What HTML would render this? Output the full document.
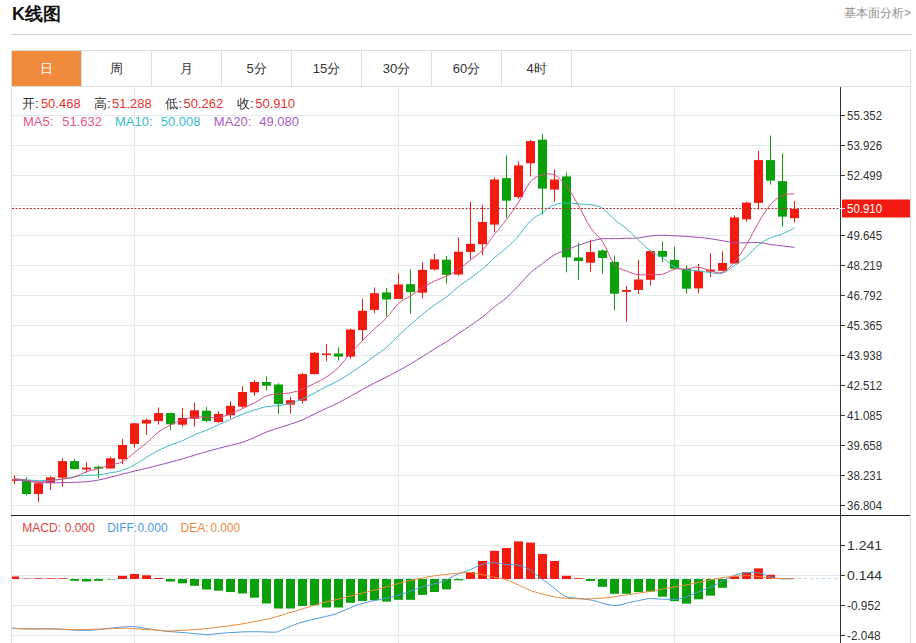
<!DOCTYPE html>
<html><head><meta charset="utf-8">
<style>
html,body{margin:0;padding:0;background:#fff;}
body{width:916px;height:643px;overflow:hidden;position:relative;font-family:"Liberation Sans",sans-serif;}
.t{position:absolute;white-space:nowrap;}
#title{left:12px;top:3px;font-size:18px;font-weight:bold;color:#111;line-height:22px;}
#more{left:844px;top:6px;font-size:12px;color:#909090;line-height:14px;}
#hr{position:absolute;left:11px;top:34px;width:901px;height:1px;background:#d0d0d0;}
#tabs{position:absolute;left:11px;top:50px;width:898px;height:35px;border:1px solid #dedede;border-bottom:1px solid #dedede;}
.tab{position:absolute;top:0;height:35px;width:70px;line-height:35px;text-align:center;font-size:13px;color:#333;border-right:1px solid #dedede;box-sizing:border-box;}
.tab.on{background:#f08a3c;color:#fff;background-clip:padding-box;}
#chart{position:absolute;left:0;top:0;}
#frame{position:absolute;left:11px;top:86px;width:898px;height:600px;border-left:1px solid #dedede;border-right:1px solid #dedede;}
.ax{font-family:"Liberation Sans",sans-serif;font-size:12.5px;fill:#333;}
.lg{position:absolute;font-size:13px;line-height:15px;white-space:nowrap;}
.v1{color:#e8312f;}
.m{font-size:12px;}
</style></head><body>
<div class="t" id="title">K线图</div>
<div class="t" id="more">基本面分析&gt;</div>
<div id="hr"></div>
<div id="frame"></div>
<div id="tabs">
<div class="tab on" style="left:0">日</div>
<div class="tab" style="left:70px">周</div>
<div class="tab" style="left:140px">月</div>
<div class="tab" style="left:210px">5分</div>
<div class="tab" style="left:280px">15分</div>
<div class="tab" style="left:350px">30分</div>
<div class="tab" style="left:420px">60分</div>
<div class="tab" style="left:490px">4时</div>
</div>
<svg id="chart" width="916" height="643" viewBox="0 0 916 643">
<defs>
<clipPath id="clipK"><rect x="12" y="87" width="828" height="428"/></clipPath>
<clipPath id="clipM"><rect x="12" y="516" width="828" height="127"/></clipPath>
</defs>
<line x1="12" y1="115.5" x2="840" y2="115.5" stroke="#e8e9eb" stroke-width="1"/>
<line x1="12" y1="145.5" x2="840" y2="145.5" stroke="#e8e9eb" stroke-width="1"/>
<line x1="12" y1="175.5" x2="840" y2="175.5" stroke="#e8e9eb" stroke-width="1"/>
<line x1="12" y1="205.5" x2="840" y2="205.5" stroke="#e8e9eb" stroke-width="1"/>
<line x1="12" y1="235.5" x2="840" y2="235.5" stroke="#e8e9eb" stroke-width="1"/>
<line x1="12" y1="265.5" x2="840" y2="265.5" stroke="#e8e9eb" stroke-width="1"/>
<line x1="12" y1="295.5" x2="840" y2="295.5" stroke="#e8e9eb" stroke-width="1"/>
<line x1="12" y1="325.5" x2="840" y2="325.5" stroke="#e8e9eb" stroke-width="1"/>
<line x1="12" y1="355.5" x2="840" y2="355.5" stroke="#e8e9eb" stroke-width="1"/>
<line x1="12" y1="385.5" x2="840" y2="385.5" stroke="#e8e9eb" stroke-width="1"/>
<line x1="12" y1="415.5" x2="840" y2="415.5" stroke="#e8e9eb" stroke-width="1"/>
<line x1="12" y1="445.5" x2="840" y2="445.5" stroke="#e8e9eb" stroke-width="1"/>
<line x1="12" y1="475.5" x2="840" y2="475.5" stroke="#e8e9eb" stroke-width="1"/>
<line x1="12" y1="505.5" x2="840" y2="505.5" stroke="#e8e9eb" stroke-width="1"/>
<line x1="134.5" y1="87" x2="134.5" y2="515" stroke="#e8e9eb" stroke-width="1"/>
<line x1="134.5" y1="516" x2="134.5" y2="643" stroke="#e8e9eb" stroke-width="1"/>
<line x1="398.5" y1="87" x2="398.5" y2="515" stroke="#e8e9eb" stroke-width="1"/>
<line x1="398.5" y1="516" x2="398.5" y2="643" stroke="#e8e9eb" stroke-width="1"/>
<line x1="674.5" y1="87" x2="674.5" y2="515" stroke="#e8e9eb" stroke-width="1"/>
<line x1="674.5" y1="516" x2="674.5" y2="643" stroke="#e8e9eb" stroke-width="1"/>
<line x1="12" y1="545.5" x2="840" y2="545.5" stroke="#e8e9eb" stroke-width="1"/>
<line x1="12" y1="575.5" x2="840" y2="575.5" stroke="#e8e9eb" stroke-width="1"/>
<line x1="12" y1="605.5" x2="840" y2="605.5" stroke="#e8e9eb" stroke-width="1"/>
<line x1="12" y1="635.5" x2="840" y2="635.5" stroke="#e8e9eb" stroke-width="1"/>
<line x1="12" y1="578.5" x2="840" y2="578.5" stroke="#bcd8ee" stroke-width="1" stroke-dasharray="3,3"/>
<g clip-path="url(#clipK)"><line x1="14.5" y1="475" x2="14.5" y2="484" stroke="#f31a10" stroke-width="1"/><rect x="10.0" y="479.2" width="9" height="1.6" fill="#f31a10"/><line x1="26.5" y1="477.2" x2="26.5" y2="495.5" stroke="#0aa00a" stroke-width="1"/><rect x="22.0" y="480.5" width="9" height="13.5" fill="#0aa00a"/><line x1="38.5" y1="481.4" x2="38.5" y2="502.1" stroke="#f31a10" stroke-width="1"/><rect x="34.0" y="483.3" width="9" height="10.7" fill="#f31a10"/><line x1="50.5" y1="476.2" x2="50.5" y2="490" stroke="#f31a10" stroke-width="1"/><rect x="46.0" y="477.4" width="9" height="5.3" fill="#f31a10"/><line x1="62.5" y1="458.2" x2="62.5" y2="486.7" stroke="#f31a10" stroke-width="1"/><rect x="58.0" y="461.1" width="9" height="16.6" fill="#f31a10"/><line x1="74.5" y1="459.1" x2="74.5" y2="469.1" stroke="#0aa00a" stroke-width="1"/><rect x="70.0" y="461.1" width="9" height="8" fill="#0aa00a"/><line x1="86.5" y1="462.3" x2="86.5" y2="472.9" stroke="#f31a10" stroke-width="1"/><rect x="82.0" y="467.6" width="9" height="1.9" fill="#f31a10"/><line x1="98.5" y1="465.7" x2="98.5" y2="478.3" stroke="#0aa00a" stroke-width="1"/><rect x="94.0" y="466.7" width="9" height="1.9" fill="#0aa00a"/><line x1="110.5" y1="456.7" x2="110.5" y2="468.6" stroke="#f31a10" stroke-width="1"/><rect x="106.0" y="458.3" width="9" height="10.2" fill="#f31a10"/><line x1="122.5" y1="439" x2="122.5" y2="464.4" stroke="#f31a10" stroke-width="1"/><rect x="118.0" y="445" width="9" height="14.2" fill="#f31a10"/><line x1="134.5" y1="423.3" x2="134.5" y2="447.4" stroke="#f31a10" stroke-width="1"/><rect x="130.0" y="423.3" width="9" height="20.6" fill="#f31a10"/><line x1="146.5" y1="418.7" x2="146.5" y2="435" stroke="#f31a10" stroke-width="1"/><rect x="142.0" y="419.8" width="9" height="3.8" fill="#f31a10"/><line x1="158.5" y1="407.5" x2="158.5" y2="424.7" stroke="#f31a10" stroke-width="1"/><rect x="154.0" y="413.1" width="9" height="8" fill="#f31a10"/><line x1="170.5" y1="412.4" x2="170.5" y2="429.9" stroke="#0aa00a" stroke-width="1"/><rect x="166.0" y="413.1" width="9" height="11.2" fill="#0aa00a"/><line x1="182.5" y1="407.9" x2="182.5" y2="426.7" stroke="#f31a10" stroke-width="1"/><rect x="178.0" y="418" width="9" height="6.7" fill="#f31a10"/><line x1="194.5" y1="402.9" x2="194.5" y2="426.7" stroke="#f31a10" stroke-width="1"/><rect x="190.0" y="410.3" width="9" height="8.4" fill="#f31a10"/><line x1="206.5" y1="407.1" x2="206.5" y2="422.2" stroke="#0aa00a" stroke-width="1"/><rect x="202.0" y="410.7" width="9" height="10.2" fill="#0aa00a"/><line x1="218.5" y1="411.2" x2="218.5" y2="422.8" stroke="#f31a10" stroke-width="1"/><rect x="214.0" y="414" width="9" height="8.1" fill="#f31a10"/><line x1="230.5" y1="401.2" x2="230.5" y2="418.8" stroke="#f31a10" stroke-width="1"/><rect x="226.0" y="405.8" width="9" height="9.4" fill="#f31a10"/><line x1="242.5" y1="386.4" x2="242.5" y2="408" stroke="#f31a10" stroke-width="1"/><rect x="238.0" y="392" width="9" height="14.7" fill="#f31a10"/><line x1="254.5" y1="380.1" x2="254.5" y2="395.8" stroke="#f31a10" stroke-width="1"/><rect x="250.0" y="382" width="9" height="10.4" fill="#f31a10"/><line x1="266.5" y1="376.1" x2="266.5" y2="390.4" stroke="#0aa00a" stroke-width="1"/><rect x="262.0" y="382" width="9" height="3.7" fill="#0aa00a"/><line x1="278.5" y1="383.2" x2="278.5" y2="414.2" stroke="#0aa00a" stroke-width="1"/><rect x="274.0" y="384.5" width="9" height="19.5" fill="#0aa00a"/><line x1="290.5" y1="396.7" x2="290.5" y2="413.4" stroke="#f31a10" stroke-width="1"/><rect x="286.0" y="400.2" width="9" height="4.4" fill="#f31a10"/><line x1="302.5" y1="373.2" x2="302.5" y2="403.3" stroke="#f31a10" stroke-width="1"/><rect x="298.0" y="374.1" width="9" height="26.7" fill="#f31a10"/><line x1="314.5" y1="351.9" x2="314.5" y2="374.5" stroke="#f31a10" stroke-width="1"/><rect x="310.0" y="352.8" width="9" height="21.3" fill="#f31a10"/><line x1="326.5" y1="344.1" x2="326.5" y2="361.2" stroke="#f31a10" stroke-width="1"/><rect x="322.0" y="353.5" width="9" height="1.5" fill="#f31a10"/><line x1="338.5" y1="347.2" x2="338.5" y2="360.6" stroke="#0aa00a" stroke-width="1"/><rect x="334.0" y="353.5" width="9" height="3.1" fill="#0aa00a"/><line x1="350.5" y1="328.6" x2="350.5" y2="358.6" stroke="#f31a10" stroke-width="1"/><rect x="346.0" y="329.5" width="9" height="27.1" fill="#f31a10"/><line x1="362.5" y1="299" x2="362.5" y2="341" stroke="#f31a10" stroke-width="1"/><rect x="358.0" y="310.8" width="9" height="19.3" fill="#f31a10"/><line x1="374.5" y1="287.5" x2="374.5" y2="313" stroke="#f31a10" stroke-width="1"/><rect x="370.0" y="293.2" width="9" height="16.7" fill="#f31a10"/><line x1="386.5" y1="288.1" x2="386.5" y2="316.6" stroke="#0aa00a" stroke-width="1"/><rect x="382.0" y="292.4" width="9" height="7.1" fill="#0aa00a"/><line x1="398.5" y1="273.4" x2="398.5" y2="299" stroke="#f31a10" stroke-width="1"/><rect x="394.0" y="284.5" width="9" height="14.5" fill="#f31a10"/><line x1="410.5" y1="269" x2="410.5" y2="313.6" stroke="#0aa00a" stroke-width="1"/><rect x="406.0" y="284.2" width="9" height="8" fill="#0aa00a"/><line x1="422.5" y1="262.2" x2="422.5" y2="298.6" stroke="#f31a10" stroke-width="1"/><rect x="418.0" y="269.9" width="9" height="22.8" fill="#f31a10"/><line x1="434.5" y1="253.8" x2="434.5" y2="270.6" stroke="#f31a10" stroke-width="1"/><rect x="430.0" y="259.4" width="9" height="10.1" fill="#f31a10"/><line x1="446.5" y1="255.9" x2="446.5" y2="283.4" stroke="#0aa00a" stroke-width="1"/><rect x="442.0" y="259.7" width="9" height="15.1" fill="#0aa00a"/><line x1="458.5" y1="237.3" x2="458.5" y2="275.5" stroke="#f31a10" stroke-width="1"/><rect x="454.0" y="251.7" width="9" height="22.8" fill="#f31a10"/><line x1="470.5" y1="201.7" x2="470.5" y2="259.4" stroke="#f31a10" stroke-width="1"/><rect x="466.0" y="243.8" width="9" height="8.1" fill="#f31a10"/><line x1="482.5" y1="204.8" x2="482.5" y2="255.3" stroke="#f31a10" stroke-width="1"/><rect x="478.0" y="222" width="9" height="22.2" fill="#f31a10"/><line x1="494.5" y1="177.5" x2="494.5" y2="232.1" stroke="#f31a10" stroke-width="1"/><rect x="490.0" y="179.5" width="9" height="45.1" fill="#f31a10"/><line x1="506.5" y1="155.3" x2="506.5" y2="217.9" stroke="#0aa00a" stroke-width="1"/><rect x="502.0" y="178.1" width="9" height="22.6" fill="#0aa00a"/><line x1="518.5" y1="161.3" x2="518.5" y2="198.7" stroke="#f31a10" stroke-width="1"/><rect x="514.0" y="165.4" width="9" height="31.7" fill="#f31a10"/><line x1="530.5" y1="140.1" x2="530.5" y2="176.5" stroke="#f31a10" stroke-width="1"/><rect x="526.0" y="141.1" width="9" height="22.2" fill="#f31a10"/><line x1="542.5" y1="134" x2="542.5" y2="214.5" stroke="#0aa00a" stroke-width="1"/><rect x="538.0" y="139.7" width="9" height="48.9" fill="#0aa00a"/><line x1="554.5" y1="169.4" x2="554.5" y2="201.7" stroke="#f31a10" stroke-width="1"/><rect x="550.0" y="179.5" width="9" height="10.1" fill="#f31a10"/><line x1="566.5" y1="172.7" x2="566.5" y2="272.3" stroke="#0aa00a" stroke-width="1"/><rect x="562.0" y="176.4" width="9" height="80.9" fill="#0aa00a"/><line x1="578.5" y1="242.7" x2="578.5" y2="279.7" stroke="#0aa00a" stroke-width="1"/><rect x="574.0" y="257.5" width="9" height="3.5" fill="#0aa00a"/><line x1="590.5" y1="239.7" x2="590.5" y2="271.7" stroke="#f31a10" stroke-width="1"/><rect x="586.0" y="252.1" width="9" height="10.6" fill="#f31a10"/><line x1="602.5" y1="249.4" x2="602.5" y2="273.6" stroke="#0aa00a" stroke-width="1"/><rect x="598.0" y="250.5" width="9" height="7.5" fill="#0aa00a"/><line x1="614.5" y1="255.7" x2="614.5" y2="310.4" stroke="#0aa00a" stroke-width="1"/><rect x="610.0" y="261.9" width="9" height="31.8" fill="#0aa00a"/><line x1="626.5" y1="285.9" x2="626.5" y2="321.5" stroke="#f31a10" stroke-width="1"/><rect x="622.0" y="290" width="9" height="1.8" fill="#f31a10"/><line x1="638.5" y1="260.1" x2="638.5" y2="294" stroke="#f31a10" stroke-width="1"/><rect x="634.0" y="279.5" width="9" height="10.4" fill="#f31a10"/><line x1="650.5" y1="250" x2="650.5" y2="285.4" stroke="#f31a10" stroke-width="1"/><rect x="646.0" y="251.1" width="9" height="28.7" fill="#f31a10"/><line x1="662.5" y1="241.2" x2="662.5" y2="262.1" stroke="#0aa00a" stroke-width="1"/><rect x="658.0" y="251" width="9" height="5.8" fill="#0aa00a"/><line x1="674.5" y1="246.7" x2="674.5" y2="268.7" stroke="#0aa00a" stroke-width="1"/><rect x="670.0" y="259.9" width="9" height="8.8" fill="#0aa00a"/><line x1="686.5" y1="265.4" x2="686.5" y2="293.7" stroke="#0aa00a" stroke-width="1"/><rect x="682.0" y="269" width="9" height="19.7" fill="#0aa00a"/><line x1="698.5" y1="264.1" x2="698.5" y2="293.4" stroke="#f31a10" stroke-width="1"/><rect x="694.0" y="270.8" width="9" height="17.6" fill="#f31a10"/><line x1="710.5" y1="253.2" x2="710.5" y2="277" stroke="#f31a10" stroke-width="1"/><rect x="706.0" y="269.7" width="9" height="1.9" fill="#f31a10"/><line x1="722.5" y1="251.4" x2="722.5" y2="270.8" stroke="#f31a10" stroke-width="1"/><rect x="718.0" y="263" width="9" height="7.8" fill="#f31a10"/><line x1="734.5" y1="215.3" x2="734.5" y2="263.5" stroke="#f31a10" stroke-width="1"/><rect x="730.0" y="217.4" width="9" height="46.1" fill="#f31a10"/><line x1="746.5" y1="201.8" x2="746.5" y2="221.7" stroke="#f31a10" stroke-width="1"/><rect x="742.0" y="202.6" width="9" height="16.7" fill="#f31a10"/><line x1="758.5" y1="150.7" x2="758.5" y2="209.7" stroke="#f31a10" stroke-width="1"/><rect x="754.0" y="160.1" width="9" height="42.8" fill="#f31a10"/><line x1="770.5" y1="135.6" x2="770.5" y2="184.6" stroke="#0aa00a" stroke-width="1"/><rect x="766.0" y="160.1" width="9" height="20.5" fill="#0aa00a"/><line x1="782.5" y1="153.2" x2="782.5" y2="226.8" stroke="#0aa00a" stroke-width="1"/><rect x="778.0" y="181.1" width="9" height="35.5" fill="#0aa00a"/><line x1="794.5" y1="201" x2="794.5" y2="222.5" stroke="#f31a10" stroke-width="1"/><rect x="790.0" y="208.9" width="9" height="9.3" fill="#f31a10"/></g>
<g clip-path="url(#clipK)"><path d="M14.5,479.57 C16.66,479.85 22.18,480.63 26.5,481.15 C30.82,481.67 34.18,482.13 38.5,482.44 C42.82,482.75 46.18,482.86 50.5,482.89 C54.82,482.92 58.18,482.71 62.5,482.61 C66.82,482.5 70.18,482.49 74.5,482.32 C78.82,482.15 82.18,482.08 86.5,481.68 C90.82,481.27 94.18,480.87 98.5,480.07 C102.82,479.27 106.18,478.31 110.5,477.23 C114.82,476.16 118.18,475.19 122.5,474.09 C126.82,472.99 130.18,472.19 134.5,471.14 C138.82,470.09 142.18,469.34 146.5,468.28 C150.82,467.21 154.18,466.34 158.5,465.23 C162.82,464.12 166.18,463.28 170.5,462.13 C174.82,460.98 178.18,460.1 182.5,458.86 C186.82,457.61 190.18,456.52 194.5,455.22 C198.82,453.91 202.18,452.84 206.5,451.62 C210.82,450.39 214.18,449.54 218.5,448.41 C222.82,447.28 226.18,446.43 230.5,445.32 C234.82,444.21 238.18,443.68 242.5,442.25 C246.82,440.83 250.18,439.24 254.5,437.4 C258.82,435.55 262.18,433.67 266.5,431.98 C270.82,430.29 274.18,429.42 278.5,428.01 C282.82,426.61 286.18,425.63 290.5,424.16 C294.82,422.68 298.18,421.63 302.5,419.81 C306.82,417.98 310.18,416.06 314.5,413.99 C318.82,411.92 322.18,410.32 326.5,408.28 C330.82,406.25 334.18,404.85 338.5,402.69 C342.82,400.52 346.18,398.61 350.5,396.25 C354.82,393.88 358.18,391.91 362.5,389.53 C366.82,387.16 370.18,385.28 374.5,383.03 C378.82,380.78 382.18,379.26 386.5,377.01 C390.82,374.77 394.18,372.93 398.5,370.58 C402.82,368.24 406.18,366.5 410.5,363.98 C414.82,361.46 418.18,359.27 422.5,356.57 C426.82,353.88 430.18,351.7 434.5,349.03 C438.82,346.36 442.18,344.5 446.5,341.73 C450.82,338.95 454.18,336.53 458.5,333.61 C462.82,330.69 466.18,328.5 470.5,325.51 C474.82,322.52 478.18,320.36 482.5,317.01 C486.82,313.66 490.18,310.37 494.5,306.88 C498.82,303.4 502.18,301.45 506.5,297.63 C510.82,293.82 514.18,290.18 518.5,285.71 C522.82,281.23 526.18,276.75 530.5,272.75 C534.82,268.75 538.18,266.7 542.5,263.48 C546.82,260.25 550.18,257.24 554.5,254.81 C558.82,252.38 562.18,251.73 566.5,250 C570.82,248.27 574.18,246.78 578.5,245.22 C582.82,243.66 586.18,242.52 590.5,241.35 C594.82,240.18 598.18,239.18 602.5,238.71 C606.82,238.24 610.18,238.82 614.5,238.73 C618.82,238.65 622.18,238.39 626.5,238.26 C630.82,238.13 634.18,238.42 638.5,238.01 C642.82,237.6 646.18,236.44 650.5,235.96 C654.82,235.47 658.18,235.33 662.5,235.3 C666.82,235.27 670.18,235.56 674.5,235.77 C678.82,235.97 682.18,236.16 686.5,236.46 C690.82,236.76 694.18,237.01 698.5,237.42 C702.82,237.82 706.18,238.11 710.5,238.71 C714.82,239.31 718.18,240.05 722.5,240.76 C726.82,241.47 730.18,242.3 734.5,242.66 C738.82,243.01 742.18,242.78 746.5,242.75 C750.82,242.72 754.18,242.18 758.5,242.49 C762.82,242.79 766.18,243.85 770.5,244.46 C774.82,245.07 778.18,245.34 782.5,245.86 C786.82,246.38 792.34,247.07 794.5,247.33" fill="none" stroke="#9a4cb6" stroke-width="1"/><path d="M14.5,478.9 C16.66,479.06 22.18,479.49 26.5,479.8 C30.82,480.11 34.18,480.51 38.5,480.6 C42.82,480.69 46.18,480.57 50.5,480.3 C54.82,480.03 58.18,479.75 62.5,479.1 C66.82,478.45 70.18,477.37 74.5,476.7 C78.82,476.03 82.18,475.72 86.5,475.4 C90.82,475.08 94.18,475.37 98.5,474.9 C102.82,474.43 106.18,473.62 110.5,472.8 C114.82,471.98 118.18,471.81 122.5,470.36 C126.82,468.91 130.18,467.11 134.5,464.77 C138.82,462.43 142.18,459.95 146.5,457.35 C150.82,454.75 154.18,452.55 158.5,450.33 C162.82,448.11 166.18,446.75 170.5,445.02 C174.82,443.29 178.18,442.54 182.5,440.71 C186.82,438.88 190.18,436.73 194.5,434.83 C198.82,432.93 202.18,431.98 206.5,430.16 C210.82,428.34 214.18,426.63 218.5,424.7 C222.82,422.77 226.18,421.35 230.5,419.45 C234.82,417.55 238.18,415.85 242.5,414.15 C246.82,412.45 250.18,411.38 254.5,410.02 C258.82,408.66 262.18,407.39 266.5,406.61 C270.82,405.83 274.18,406.3 278.5,405.7 C282.82,405.1 286.18,404.51 290.5,403.29 C294.82,402.07 298.18,400.73 302.5,398.9 C306.82,397.07 310.18,395.4 314.5,393.15 C318.82,390.9 322.18,388.66 326.5,386.41 C330.82,384.16 334.18,383.08 338.5,380.67 C342.82,378.26 346.18,375.88 350.5,373.04 C354.82,370.21 358.18,367.98 362.5,364.92 C366.82,361.86 370.18,359.19 374.5,356.04 C378.82,352.89 382.18,351.12 386.5,347.42 C390.82,343.72 394.18,339.56 398.5,335.47 C402.82,331.37 406.18,328.49 410.5,324.67 C414.82,320.85 418.18,317.81 422.5,314.25 C426.82,310.69 430.18,308.01 434.5,304.91 C438.82,301.81 442.18,300.34 446.5,297.04 C450.82,293.74 454.18,289.98 458.5,286.55 C462.82,283.12 466.18,281.12 470.5,277.98 C474.82,274.84 478.18,272.75 482.5,269.1 C486.82,265.46 490.18,261.56 494.5,257.73 C498.82,253.91 502.18,251.77 506.5,247.85 C510.82,243.93 514.18,240.8 518.5,235.94 C522.82,231.08 526.18,225.01 530.5,220.83 C534.82,216.65 538.18,215.6 542.5,212.7 C546.82,209.8 550.18,206.46 554.5,204.71 C558.82,202.96 562.18,203.11 566.5,202.96 C570.82,202.81 574.18,203.57 578.5,203.89 C582.82,204.21 586.18,203.92 590.5,204.72 C594.82,205.52 598.18,205.62 602.5,208.32 C606.82,211.02 610.18,216.08 614.5,219.74 C618.82,223.4 622.18,225.01 626.5,228.67 C630.82,232.33 634.18,236.05 638.5,240.08 C642.82,244.11 646.18,247.87 650.5,251.08 C654.82,254.29 658.18,255.07 662.5,257.9 C666.82,260.73 670.18,264.65 674.5,266.82 C678.82,268.99 682.18,269.22 686.5,269.96 C690.82,270.7 694.18,270.45 698.5,270.94 C702.82,271.43 706.18,272.29 710.5,272.7 C714.82,273.11 718.18,274.48 722.5,273.2 C726.82,271.92 730.18,268.52 734.5,265.57 C738.82,262.62 742.18,260.55 746.5,256.83 C750.82,253.11 754.18,248.31 758.5,244.89 C762.82,241.47 766.18,239.83 770.5,237.84 C774.82,235.85 778.18,235.62 782.5,233.82 C786.82,232.02 792.34,228.92 794.5,227.84" fill="none" stroke="#3cb9c6" stroke-width="1"/><path d="M14.5,478.83 C16.66,479.08 22.18,479.63 26.5,480.2 C30.82,480.77 34.18,481.95 38.5,482 C42.82,482.05 46.18,481.04 50.5,480.5 C54.82,479.96 58.18,479.63 62.5,479 C66.82,478.37 70.18,478.29 74.5,476.98 C78.82,475.67 82.18,473.18 86.5,471.7 C90.82,470.22 94.18,469.98 98.5,468.76 C102.82,467.54 106.18,466.21 110.5,464.94 C114.82,463.67 118.18,463.95 122.5,461.72 C126.82,459.49 130.18,455.93 134.5,452.56 C138.82,449.19 142.18,446.72 146.5,443 C150.82,439.28 154.18,435.12 158.5,431.9 C162.82,428.68 166.18,427.3 170.5,425.1 C174.82,422.9 178.18,421.14 182.5,419.7 C186.82,418.26 190.18,417.53 194.5,417.1 C198.82,416.67 202.18,417.25 206.5,417.32 C210.82,417.39 214.18,418.13 218.5,417.5 C222.82,416.87 226.18,415.4 230.5,413.8 C234.82,412.2 238.18,410.55 242.5,408.6 C246.82,406.65 250.18,405.23 254.5,402.94 C258.82,400.65 262.18,397.53 266.5,395.9 C270.82,394.27 274.18,394.46 278.5,393.9 C282.82,393.34 286.18,393.63 290.5,392.78 C294.82,391.93 298.18,390.9 302.5,389.2 C306.82,387.5 310.18,385.57 314.5,383.36 C318.82,381.15 322.18,379.79 326.5,376.92 C330.82,374.05 334.18,371.69 338.5,367.44 C342.82,363.19 346.18,358.12 350.5,353.3 C354.82,348.48 358.18,345.06 362.5,340.64 C366.82,336.22 370.18,332.81 374.5,328.72 C378.82,324.63 382.18,322.46 386.5,317.92 C390.82,313.38 394.18,307.44 398.5,303.5 C402.82,299.56 406.18,298.86 410.5,296.04 C414.82,293.22 418.18,290.55 422.5,287.86 C426.82,285.17 430.18,283.21 434.5,281.1 C438.82,278.99 442.18,278.23 446.5,276.16 C450.82,274.09 454.18,272.52 458.5,269.6 C462.82,266.68 466.18,263.39 470.5,259.92 C474.82,256.45 478.18,254.94 482.5,250.34 C486.82,245.74 490.18,239.9 494.5,234.36 C498.82,228.82 502.18,225.31 506.5,219.54 C510.82,213.77 514.18,209.08 518.5,202.28 C522.82,195.48 526.18,186.64 530.5,181.74 C534.82,176.84 538.18,176.26 542.5,175.06 C546.82,173.86 550.18,173.02 554.5,175.06 C558.82,177.1 562.18,180.9 566.5,186.38 C570.82,191.86 574.18,198.06 578.5,205.5 C582.82,212.94 586.18,221.21 590.5,227.7 C594.82,234.19 598.18,234.97 602.5,241.58 C606.82,248.19 610.18,259.13 614.5,264.42 C618.82,269.71 622.18,269.12 626.5,270.96 C630.82,272.8 634.18,274.03 638.5,274.66 C642.82,275.29 646.18,274.54 650.5,274.46 C654.82,274.38 658.18,275.16 662.5,274.22 C666.82,273.28 670.18,270.17 674.5,269.22 C678.82,268.27 682.18,269.32 686.5,268.96 C690.82,268.6 694.18,266.86 698.5,267.22 C702.82,267.58 706.18,270.05 710.5,270.94 C714.82,271.83 718.18,273.8 722.5,272.18 C726.82,270.56 730.18,266.87 734.5,261.92 C738.82,256.97 742.18,251.78 746.5,244.7 C750.82,237.62 754.18,229.75 758.5,222.56 C762.82,215.37 766.18,209.62 770.5,204.74 C774.82,199.86 778.18,197.44 782.5,195.46 C786.82,193.48 792.34,194.07 794.5,193.76" fill="none" stroke="#d64a80" stroke-width="1"/></g>
<line x1="12" y1="208.5" x2="840" y2="208.5" stroke="#a83232" stroke-width="1" stroke-dasharray="2,1.6"/>
<g clip-path="url(#clipM)"><rect x="10.0" y="576.5" width="9" height="2.5" fill="#f31a10"/><rect x="22.0" y="578.6" width="9" height="0.4" fill="#f31a10"/><rect x="34.0" y="578.3" width="9" height="0.7" fill="#f31a10"/><rect x="46.0" y="578.3" width="9" height="0.7" fill="#f31a10"/><rect x="58.0" y="578.3" width="9" height="0.7" fill="#f31a10"/><rect x="70.0" y="579.0" width="9" height="1.8" fill="#0aa00a"/><rect x="82.0" y="579.0" width="9" height="2.5" fill="#0aa00a"/><rect x="94.0" y="579.0" width="9" height="1.8" fill="#0aa00a"/><rect x="106.0" y="579.0" width="9" height="0.4" fill="#0aa00a"/><rect x="118.0" y="575.8" width="9" height="3.2" fill="#f31a10"/><rect x="130.0" y="574" width="9" height="5" fill="#f31a10"/><rect x="142.0" y="575.3" width="9" height="3.7" fill="#f31a10"/><rect x="154.0" y="578" width="9" height="1" fill="#f31a10"/><rect x="166.0" y="579.0" width="9" height="2.5" fill="#0aa00a"/><rect x="178.0" y="579.0" width="9" height="4.3" fill="#0aa00a"/><rect x="190.0" y="579.0" width="9" height="6.8" fill="#0aa00a"/><rect x="202.0" y="579.0" width="9" height="10.5" fill="#0aa00a"/><rect x="214.0" y="579.0" width="9" height="11.7" fill="#0aa00a"/><rect x="226.0" y="579.0" width="9" height="13" fill="#0aa00a"/><rect x="238.0" y="579.0" width="9" height="14.5" fill="#0aa00a"/><rect x="250.0" y="579.0" width="9" height="18.7" fill="#0aa00a"/><rect x="262.0" y="579.0" width="9" height="24.5" fill="#0aa00a"/><rect x="274.0" y="579.0" width="9" height="29.5" fill="#0aa00a"/><rect x="286.0" y="579.0" width="9" height="29.5" fill="#0aa00a"/><rect x="298.0" y="579.0" width="9" height="27" fill="#0aa00a"/><rect x="310.0" y="579.0" width="9" height="26.3" fill="#0aa00a"/><rect x="322.0" y="579.0" width="9" height="28.5" fill="#0aa00a"/><rect x="334.0" y="579.0" width="9" height="28.5" fill="#0aa00a"/><rect x="346.0" y="579.0" width="9" height="23.8" fill="#0aa00a"/><rect x="358.0" y="579.0" width="9" height="22" fill="#0aa00a"/><rect x="370.0" y="579.0" width="9" height="21.2" fill="#0aa00a"/><rect x="382.0" y="579.0" width="9" height="22.6" fill="#0aa00a"/><rect x="394.0" y="579.0" width="9" height="20.8" fill="#0aa00a"/><rect x="406.0" y="579.0" width="9" height="20.8" fill="#0aa00a"/><rect x="418.0" y="579.0" width="9" height="15.9" fill="#0aa00a"/><rect x="430.0" y="579.0" width="9" height="13" fill="#0aa00a"/><rect x="442.0" y="579.0" width="9" height="10.3" fill="#0aa00a"/><rect x="454.0" y="579.0" width="9" height="1.3" fill="#0aa00a"/><rect x="466.0" y="572" width="9" height="7" fill="#f31a10"/><rect x="478.0" y="561" width="9" height="18" fill="#f31a10"/><rect x="490.0" y="550.8" width="9" height="28.2" fill="#f31a10"/><rect x="502.0" y="548" width="9" height="31" fill="#f31a10"/><rect x="514.0" y="541.4" width="9" height="37.6" fill="#f31a10"/><rect x="526.0" y="542.6" width="9" height="36.4" fill="#f31a10"/><rect x="538.0" y="554" width="9" height="25" fill="#f31a10"/><rect x="550.0" y="561" width="9" height="18" fill="#f31a10"/><rect x="562.0" y="575.8" width="9" height="3.2" fill="#f31a10"/><rect x="574.0" y="578.2" width="9" height="0.8" fill="#f31a10"/><rect x="586.0" y="579.0" width="9" height="2" fill="#0aa00a"/><rect x="598.0" y="579.0" width="9" height="7.8" fill="#0aa00a"/><rect x="610.0" y="579.0" width="9" height="14.8" fill="#0aa00a"/><rect x="622.0" y="579.0" width="9" height="14.8" fill="#0aa00a"/><rect x="634.0" y="579.0" width="9" height="13" fill="#0aa00a"/><rect x="646.0" y="579.0" width="9" height="12.6" fill="#0aa00a"/><rect x="658.0" y="579.0" width="9" height="17.7" fill="#0aa00a"/><rect x="670.0" y="579.0" width="9" height="22.2" fill="#0aa00a"/><rect x="682.0" y="579.0" width="9" height="24.6" fill="#0aa00a"/><rect x="694.0" y="579.0" width="9" height="20.3" fill="#0aa00a"/><rect x="706.0" y="579.0" width="9" height="16.6" fill="#0aa00a"/><rect x="718.0" y="579.0" width="9" height="8.8" fill="#0aa00a"/><rect x="730.0" y="576.3" width="9" height="2.7" fill="#f31a10"/><rect x="742.0" y="572.1" width="9" height="6.9" fill="#f31a10"/><rect x="754.0" y="568.4" width="9" height="10.6" fill="#f31a10"/><rect x="766.0" y="574.8" width="9" height="4.2" fill="#f31a10"/><path d="M12.2,628 C14.72,628.16 18.96,628.74 26.2,628.9 C33.44,629.06 42.97,628.65 52.4,628.9 C61.83,629.15 70.75,630.12 78.6,630.3 C86.45,630.48 89.72,630.35 96,629.9 C102.28,629.45 106.88,628.39 113.5,627.8 C120.12,627.21 127.13,626.51 132.8,626.6 C138.47,626.69 140.1,627.6 145,628.3 C149.9,629 155.73,629.92 160,630.5 C164.27,631.08 163.98,631.09 168.7,631.5 C173.42,631.91 179.59,632.26 186.2,632.8 C192.81,633.34 199.12,634.41 205.4,634.5 C211.68,634.59 215.12,633.73 221.1,633.3 C227.08,632.87 232.3,632.39 238.6,632.1 C244.9,631.81 249.49,631.7 256.1,631.7 C262.71,631.7 270.58,632.44 275.3,632.1 C280.02,631.76 277.91,631.47 282.3,629.8 C286.69,628.13 292.91,624.96 299.7,622.8 C306.49,620.64 313.2,619.51 320,617.8 C326.8,616.09 331.22,615.46 337.5,613.3 C343.78,611.14 348.62,608.01 354.9,605.8 C361.18,603.59 366.1,602.48 372.4,601 C378.7,599.52 383.62,599.17 389.9,597.6 C396.18,596.03 401.02,594.35 407.3,592.3 C413.58,590.25 418.5,588.09 424.8,586.2 C431.1,584.31 436.65,583.85 442.3,581.8 C447.95,579.75 451.48,576.87 456.2,574.8 C460.92,572.73 464.45,571.9 468.5,570.3 C472.55,568.7 475.28,567.18 478.7,565.9 C482.12,564.62 484.35,563.78 487.5,563.2 C490.65,562.62 493.07,562.47 496.2,562.7 C499.33,562.93 501.75,564.18 504.9,564.5 C508.05,564.82 510.55,564.19 513.7,564.5 C516.85,564.81 519.27,565.1 522.4,566.2 C525.53,567.3 527.95,568.55 531.1,570.6 C534.25,572.65 536.75,575.24 539.9,577.6 C543.05,579.96 545.47,581.34 548.6,583.7 C551.73,586.06 554.15,588.34 557.3,590.7 C560.45,593.06 562.95,595.49 566.1,596.8 C569.25,598.11 570.08,597.37 574.8,598 C579.52,598.63 585.39,598.95 592.3,600.3 C599.21,601.65 606.41,605.14 613.2,605.5 C619.99,605.86 625.3,603.2 630,602.3 C634.7,601.4 635.95,601.17 639.3,600.5 C642.65,599.83 645.27,598.87 648.6,598.6 C651.93,598.33 654.47,598.87 657.8,599 C661.13,599.13 663.75,599.25 667.1,599.3 C670.45,599.35 673.05,599.7 676.4,599.3 C679.75,598.9 682.35,598.16 685.7,597.1 C689.05,596.04 691.67,594.73 695,593.4 C698.33,592.07 700.87,591.03 704.2,589.7 C707.53,588.37 710.15,587.6 713.5,586 C716.85,584.4 719.45,582.55 722.8,580.8 C726.15,579.05 728.75,577.63 732.1,576.3 C735.45,574.97 738.07,574.1 741.4,573.4 C744.73,572.7 747.27,572.47 750.6,572.4 C753.93,572.33 756.55,572.23 759.9,573 C763.25,573.77 765.85,575.69 769.2,576.7 C772.55,577.71 775.15,578.2 778.5,578.6 C781.85,579 784.92,578.9 787.8,578.9 C790.68,578.9 793.29,578.65 794.5,578.6" fill="none" stroke="#4c9be0" stroke-width="1"/><path d="M12.2,628.3 C14.72,628.41 18.96,628.79 26.2,628.9 C33.44,629.01 42.97,628.77 52.4,628.9 C61.83,629.03 69.17,629.6 78.6,629.6 C88.03,629.6 96.93,629.13 104.8,628.9 C112.67,628.67 116.95,628.34 122.3,628.3 C127.65,628.26 127.71,628.34 134.5,628.7 C141.29,629.06 153.84,629.89 160,630.3 C166.16,630.71 163.98,631.04 168.7,631 C173.42,630.96 179.9,630.48 186.2,630.1 C192.5,629.72 197.42,629.49 203.7,628.9 C209.98,628.31 214.82,627.59 221.1,626.8 C227.38,626.01 232.3,625.47 238.6,624.5 C244.9,623.53 249.82,622.64 256.1,621.4 C262.38,620.16 267.22,619.24 273.5,617.6 C279.78,615.96 284.7,614.19 291,612.3 C297.3,610.41 303.28,608.68 308.5,607.1 C313.72,605.52 314.78,604.9 320,603.5 C325.22,602.1 331.22,600.85 337.5,599.3 C343.78,597.75 348.62,596.47 354.9,594.9 C361.18,593.33 366.1,592.22 372.4,590.6 C378.7,588.98 383.62,587.57 389.9,585.9 C396.18,584.23 401.02,582.81 407.3,581.3 C413.58,579.79 418.5,578.67 424.8,577.5 C431.1,576.33 436.02,575.59 442.3,574.8 C448.58,574.01 454.71,573.5 459.7,573.1 C464.69,572.7 466.35,572.4 470,572.6 C473.65,572.8 476.85,573.62 480,574.2 C483.15,574.78 484.58,575.19 487.5,575.8 C490.42,576.41 493.07,576.97 496.2,577.6 C499.33,578.23 501.75,578.36 504.9,579.3 C508.05,580.24 510.55,581.45 513.7,582.8 C516.85,584.15 519.27,585.38 522.4,586.8 C525.53,588.22 527.95,589.53 531.1,590.7 C534.25,591.87 536.75,592.44 539.9,593.3 C543.05,594.16 545.47,594.78 548.6,595.5 C551.73,596.22 554.15,596.81 557.3,597.3 C560.45,597.79 561.38,597.91 566.1,598.2 C570.82,598.49 577.22,598.9 583.5,598.9 C589.78,598.9 594.7,598.69 601,598.2 C607.3,597.71 613.28,596.88 618.5,596.2 C623.72,595.52 624.58,595.23 630,594.4 C635.42,593.57 641.92,592.72 648.6,591.6 C655.28,590.48 660.42,589.37 667.1,588.2 C673.78,587.03 679.02,586.34 685.7,585.1 C692.38,583.86 697.52,582.65 704.2,581.3 C710.88,579.95 716.1,578.59 722.8,577.6 C729.5,576.61 736.4,576.12 741.4,575.8 C746.4,575.48 747.27,575.64 750.6,575.8 C753.93,575.96 756.55,576.3 759.9,576.7 C763.25,577.1 765.85,577.66 769.2,578 C772.55,578.34 773.95,578.49 778.5,578.6 C783.05,578.71 791.62,578.6 794.5,578.6" fill="none" stroke="#ef8a3c" stroke-width="1"/></g>
<line x1="840.5" y1="87" x2="840.5" y2="643" stroke="#333" stroke-width="1"/>
<line x1="11" y1="515.5" x2="910" y2="515.5" stroke="#222" stroke-width="1.2"/>
<line x1="840" y1="115.5" x2="845" y2="115.5" stroke="#333" stroke-width="1"/>
<line x1="840" y1="145.5" x2="845" y2="145.5" stroke="#333" stroke-width="1"/>
<line x1="840" y1="175.5" x2="845" y2="175.5" stroke="#333" stroke-width="1"/>
<line x1="840" y1="235.5" x2="845" y2="235.5" stroke="#333" stroke-width="1"/>
<line x1="840" y1="265.5" x2="845" y2="265.5" stroke="#333" stroke-width="1"/>
<line x1="840" y1="295.5" x2="845" y2="295.5" stroke="#333" stroke-width="1"/>
<line x1="840" y1="325.5" x2="845" y2="325.5" stroke="#333" stroke-width="1"/>
<line x1="840" y1="355.5" x2="845" y2="355.5" stroke="#333" stroke-width="1"/>
<line x1="840" y1="385.5" x2="845" y2="385.5" stroke="#333" stroke-width="1"/>
<line x1="840" y1="415.5" x2="845" y2="415.5" stroke="#333" stroke-width="1"/>
<line x1="840" y1="445.5" x2="845" y2="445.5" stroke="#333" stroke-width="1"/>
<line x1="840" y1="475.5" x2="845" y2="475.5" stroke="#333" stroke-width="1"/>
<line x1="840" y1="505.5" x2="845" y2="505.5" stroke="#333" stroke-width="1"/>
<line x1="840" y1="545.5" x2="845" y2="545.5" stroke="#333" stroke-width="1"/>
<line x1="840" y1="575.5" x2="845" y2="575.5" stroke="#333" stroke-width="1"/>
<line x1="840" y1="605.5" x2="845" y2="605.5" stroke="#333" stroke-width="1"/>
<line x1="840" y1="635.5" x2="845" y2="635.5" stroke="#333" stroke-width="1"/>
<rect x="842" y="199.5" width="68" height="18" fill="#f31a10"/>
<line x1="840" y1="208.5" x2="845" y2="208.5" stroke="#fff" stroke-width="1"/>
<text x="847" y="119.6" class="ax" textLength="35.1" lengthAdjust="spacingAndGlyphs">55.352</text>
<text x="847" y="149.6" class="ax" textLength="35.1" lengthAdjust="spacingAndGlyphs">53.926</text>
<text x="847" y="179.6" class="ax" textLength="35.1" lengthAdjust="spacingAndGlyphs">52.499</text>
<text x="847" y="239.6" class="ax" textLength="35.1" lengthAdjust="spacingAndGlyphs">49.645</text>
<text x="847" y="269.6" class="ax" textLength="35.1" lengthAdjust="spacingAndGlyphs">48.219</text>
<text x="847" y="299.6" class="ax" textLength="35.1" lengthAdjust="spacingAndGlyphs">46.792</text>
<text x="847" y="329.6" class="ax" textLength="35.1" lengthAdjust="spacingAndGlyphs">45.365</text>
<text x="847" y="359.6" class="ax" textLength="35.1" lengthAdjust="spacingAndGlyphs">43.938</text>
<text x="847" y="389.6" class="ax" textLength="35.1" lengthAdjust="spacingAndGlyphs">42.512</text>
<text x="847" y="419.6" class="ax" textLength="35.1" lengthAdjust="spacingAndGlyphs">41.085</text>
<text x="847" y="449.6" class="ax" textLength="35.1" lengthAdjust="spacingAndGlyphs">39.658</text>
<text x="847" y="479.6" class="ax" textLength="35.1" lengthAdjust="spacingAndGlyphs">38.231</text>
<text x="847" y="509.6" class="ax" textLength="35.1" lengthAdjust="spacingAndGlyphs">36.804</text>
<text x="847" y="549.6" class="ax" textLength="35.1" lengthAdjust="spacingAndGlyphs">1.241</text>
<text x="847" y="579.6" class="ax" textLength="35.1" lengthAdjust="spacingAndGlyphs">0.144</text>
<text x="847" y="609.6" class="ax" textLength="33.6" lengthAdjust="spacingAndGlyphs">-0.952</text>
<text x="847" y="639.6" class="ax" textLength="33.6" lengthAdjust="spacingAndGlyphs">-2.048</text>
<text x="847" y="212.6" class="ax" style="fill:#fff" textLength="35.1" lengthAdjust="spacingAndGlyphs">50.910</text>
</svg>
<div class="lg" style="left:22px;top:96px;color:#333">开:</div><div class="lg v1" style="left:40.9px;top:96px">50.468</div>
<div class="lg" style="left:94px;top:96px;color:#333">高:</div><div class="lg v1" style="left:112px;top:96px">51.288</div>
<div class="lg" style="left:165.4px;top:96px;color:#333">低:</div><div class="lg v1" style="left:183.5px;top:96px">50.262</div>
<div class="lg" style="left:237px;top:96px;color:#333">收:</div><div class="lg v1" style="left:255.2px;top:96px">50.910</div>
<div class="lg" style="left:23px;top:114px;color:#e2568a">MA5:</div><div class="lg" style="left:62.2px;top:114px;color:#e2568a">51.632</div>
<div class="lg" style="left:115px;top:114px;color:#38bcce">MA10:</div><div class="lg" style="left:160.7px;top:114px;color:#38bcce">50.008</div>
<div class="lg" style="left:213.8px;top:114px;color:#a85cc8">MA20:</div><div class="lg" style="left:259.2px;top:114px;color:#a85cc8">49.080</div>
<div class="lg m" style="left:22.3px;top:520.5px;color:#e0403e">MACD:</div><div class="lg m" style="left:64.8px;top:520.5px;color:#e0403e">0.000</div>
<div class="lg m" style="left:107.2px;top:520.5px;color:#4c9be0">DIFF:</div><div class="lg m" style="left:137.6px;top:520.5px;color:#4c9be0">0.000</div>
<div class="lg m" style="left:180.6px;top:520.5px;color:#ef8a3c">DEA:</div><div class="lg m" style="left:210.2px;top:520.5px;color:#ef8a3c">0.000</div>
</body></html>
